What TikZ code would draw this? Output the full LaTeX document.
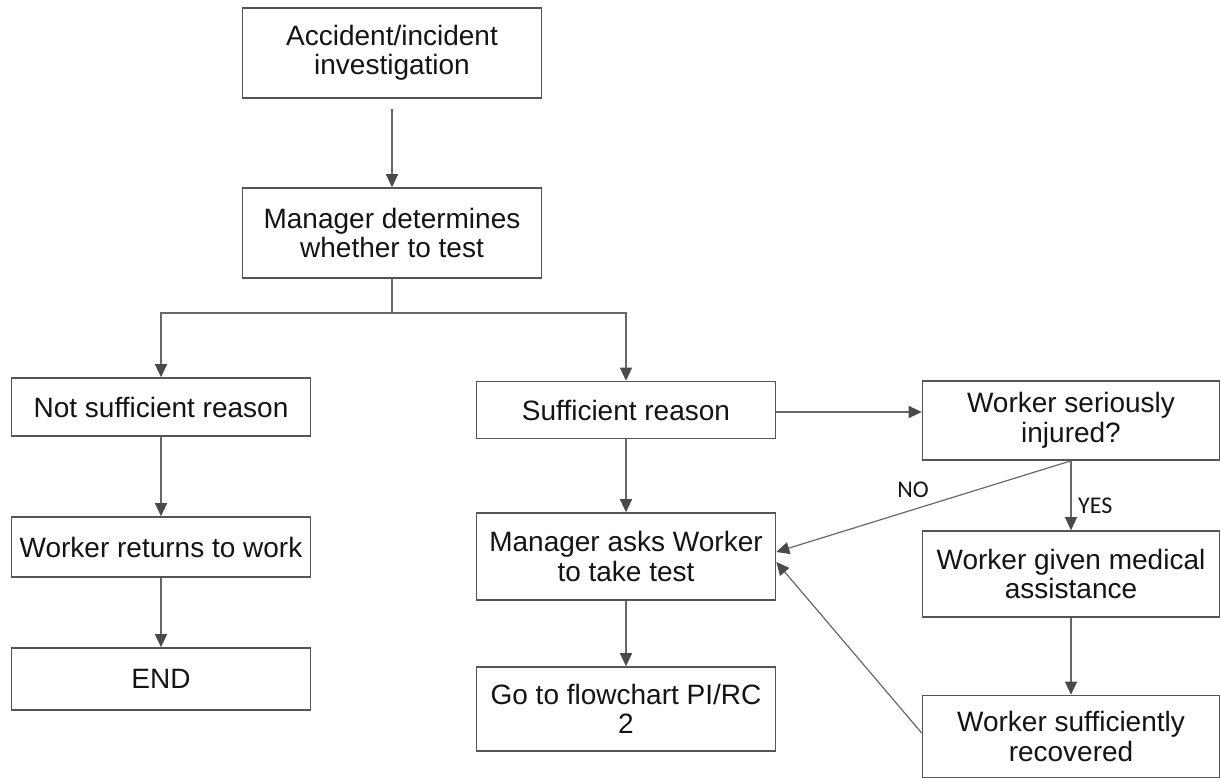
\documentclass[tikz,border=0pt]{standalone}
\usepackage{fontspec}
\setmainfont{Liberation Sans}
\newfontfamily\labelfont{Carlito}
\usetikzlibrary{arrows.meta}
\definecolor{boxgray}{HTML}{555555}
\definecolor{linegray}{HTML}{686868}
\definecolor{tipgray}{HTML}{4A4A4A}
\definecolor{textblack}{HTML}{141414}
\begin{document}
\begin{tikzpicture}[x=1pt,y=-1pt,
  box/.style={draw=boxgray, line width=1.6pt, minimum width=299pt, inner sep=0pt,
    align=center, font=\fontsize{28}{29.5}\selectfont, text=textblack},
  conn/.style={draw=linegray, line width=1.2pt,
    -{Triangle[length=13pt,width=12pt,color=tipgray]}},
  plainline/.style={draw=linegray, line width=1.2pt},
  lab/.style={font=\labelfont\fontsize{24}{26}\selectfont, text=textblack, inner sep=0pt}]
\useasboundingbox[fill=white] (0,0) rectangle (1221,780);

% left / top column
\node[box, minimum height=90pt] (acc) at (392,53) {Accident/incident\\investigation};
\node[box, minimum height=90pt] (mgr) at (392,233) {Manager determines\\whether to test};
\node[box, minimum height=58pt] (ns)  at (161,407) {Not sufficient reason};
\node[box, minimum height=60pt] (wr)  at (161,547) {Worker returns to work};
\node[box, minimum height=62pt] (end) at (161,679) {END};

% middle column
\node[box, minimum height=57pt] (suf) at (626,410) {Sufficient reason};
\node[box, minimum height=87pt] (ma)  at (626,556.5) {Manager asks Worker\\to take test};
\node[box, minimum height=84pt] (go)  at (626,709) {Go to flowchart PI/RC\\2};

% right column
\node[box, minimum height=79pt, minimum width=297pt] (inj) at (1071,420.5) {Worker seriously\\injured?};
\node[box, minimum height=86pt, minimum width=297pt] (med) at (1071,574) {Worker given medical\\assistance};
\node[box, minimum height=82pt, minimum width=297pt] (rec) at (1071,736.5) {Worker sufficiently\\recovered};

% connectors
\draw[conn, shorten <=10pt] (acc.south) -- (mgr.north);
\coordinate (sp) at (mgr.south |- 0,313);
\draw[plainline] (mgr.south) -- (sp);
\draw[conn] (sp) -| (ns.north);
\draw[conn] (sp) -| (suf.north);
\draw[conn] (ns.south) -- (wr.north);
\draw[conn] (wr.south) -- (end.north);
\draw[conn] (suf.south) -- (ma.north);
\draw[conn] (ma.south) -- (go.north);
\draw[conn] ([yshift=-2pt]suf.east) -- ([yshift=-2pt]suf.east -| inj.west);
\draw[conn] (inj.south) -- (med.north);
\draw[conn] (med.south) -- (rec.north);
\draw[conn] (inj.south) -- ([yshift=4.5pt]ma.east);
\draw[conn] ([yshift=3.5pt]rec.west) -- ([yshift=-5.5pt]ma.east);

% labels
\node[lab] (no) at (913,490) {NO};
\node[lab, anchor=west] (yes) at (1078,506) {YES};
\end{tikzpicture}
\end{document}
